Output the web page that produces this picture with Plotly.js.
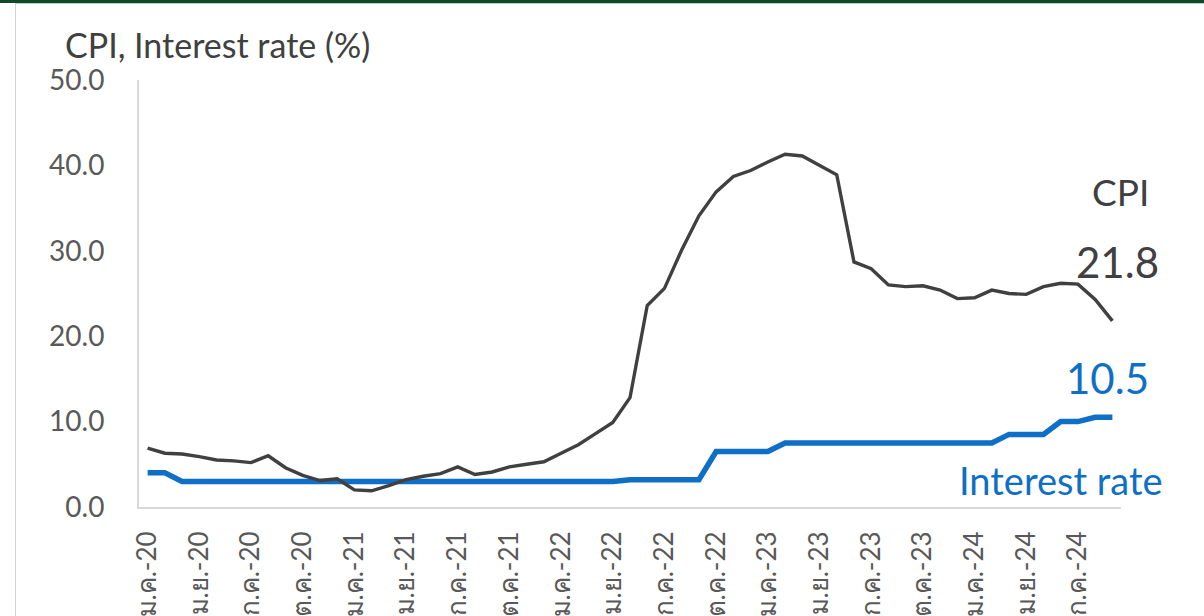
<!DOCTYPE html>
<html>
<head>
<meta charset="utf-8">
<script src="https://cdn.plot.ly/plotly-3.0.1.min.js"></script>
<style>
  html, body { margin:0; padding:0; background:#ffffff; }
  #wrap { position:relative; width:1204px; height:616px; overflow:hidden; }
  #chart { position:absolute; left:0; top:0; width:1204px; height:616px; }
  #topbar { position:absolute; left:0; top:0; width:1204px; height:3px; background:#0d4a2a; }
  #topline { position:absolute; left:15px; top:3px; width:1189px; height:1px; background:#c8c8c8; }
  #leftline { position:absolute; left:15px; top:3px; width:1px; height:613px; background:#d0d0d0; }
</style>
</head>
<body>
<div id="wrap">
  <div id="chart"></div>
  <div id="topbar"></div>
  <div id="topline"></div>
  <div id="leftline"></div>
</div>
<script>
// Months (Thai abbreviations), Jan 2020 – Sep 2024
const months = [
  'ม.ค.-20','ก.พ.-20','มี.ค.-20','เม.ย.-20','พ.ค.-20','มิ.ย.-20','ก.ค.-20','ส.ค.-20','ก.ย.-20','ต.ค.-20','พ.ย.-20','ธ.ค.-20',
  'ม.ค.-21','ก.พ.-21','มี.ค.-21','เม.ย.-21','พ.ค.-21','มิ.ย.-21','ก.ค.-21','ส.ค.-21','ก.ย.-21','ต.ค.-21','พ.ย.-21','ธ.ค.-21',
  'ม.ค.-22','ก.พ.-22','มี.ค.-22','เม.ย.-22','พ.ค.-22','มิ.ย.-22','ก.ค.-22','ส.ค.-22','ก.ย.-22','ต.ค.-22','พ.ย.-22','ธ.ค.-22',
  'ม.ค.-23','ก.พ.-23','มี.ค.-23','เม.ย.-23','พ.ค.-23','มิ.ย.-23','ก.ค.-23','ส.ค.-23','ก.ย.-23','ต.ค.-23','พ.ย.-23','ธ.ค.-23',
  'ม.ค.-24','ก.พ.-24','มี.ค.-24','เม.ย.-24','พ.ค.-24','มิ.ย.-24','ก.ค.-24','ส.ค.-24','ก.ย.-24'
];

// Tick labels shown on the x axis (every third month)
const tickLabels = [
  'ม.ค.-20','เม.ย.-20','ก.ค.-20','ต.ค.-20',
  'ม.ค.-21','เม.ย.-21','ก.ค.-21','ต.ค.-21',
  'ม.ค.-22','เม.ย.-22','ก.ค.-22','ต.ค.-22',
  'ม.ค.-23','เม.ย.-23','ก.ค.-23','ต.ค.-23',
  'ม.ค.-24','เม.ย.-24','ก.ค.-24'
];

// CPI inflation (% y/y)
const cpi = [
  6.9, 6.3, 6.2, 5.9, 5.5, 5.4, 5.2, 6.0, 4.6, 3.7, 3.1, 3.3,
  2.0, 1.9, 2.5, 3.2, 3.6, 3.9, 4.7, 3.8, 4.1, 4.7, 5.0, 5.3,
  6.3, 7.3, 8.6, 9.9, 12.8, 23.6, 25.6, 30.1, 34.1, 36.9, 38.7, 39.4,
  40.4, 41.3, 41.1, 40.0, 38.9, 28.7, 27.9, 26.0, 25.8, 25.9, 25.4, 24.4,
  24.5, 25.4, 25.0, 24.9, 25.8, 26.2, 26.1, 24.3, 21.8
];

// Policy interest rate (%)
const rate = [
  4.0, 4.0, 3.0, 3.0, 3.0, 3.0, 3.0, 3.0, 3.0, 3.0, 3.0, 3.0,
  3.0, 3.0, 3.0, 3.0, 3.0, 3.0, 3.0, 3.0, 3.0, 3.0, 3.0, 3.0,
  3.0, 3.0, 3.0, 3.0, 3.2, 3.2, 3.2, 3.2, 3.2, 6.5, 6.5, 6.5,
  6.5, 7.5, 7.5, 7.5, 7.5, 7.5, 7.5, 7.5, 7.5, 7.5, 7.5, 7.5,
  7.5, 7.5, 8.5, 8.5, 8.5, 10.0, 10.0, 10.5, 10.5
];

const yTicks = [0, 10, 20, 30, 40, 50];

const FONT = "Lato, 'Noto Sans', 'DejaVu Sans', sans-serif";
const GRAY = '#404040';
const TICKGRAY = '#595959';
const BLUE = '#0f6fc6';

const lastCpi = cpi[cpi.length - 1];
const lastRate = rate[rate.length - 1];

const traces = [
  {
    type: 'scatter', mode: 'lines', name: 'Interest rate',
    x: months, y: rate,
    line: { color: BLUE, width: 5.5 }, hoverinfo: 'x+y'
  },
  {
    type: 'scatter', mode: 'lines', name: 'CPI',
    x: months, y: cpi,
    line: { color: GRAY, width: 3.4 }, hoverinfo: 'x+y'
  }
];

const layout = {
  width: 1204, height: 616,
  margin: { l: 139, r: 83, t: 80, b: 109, pad: 0 },
  paper_bgcolor: '#ffffff', plot_bgcolor: '#ffffff',
  showlegend: false,
  font: { family: FONT, color: TICKGRAY, size: 27 },
  xaxis: {
    type: 'category',
    range: [-0.5, months.length - 0.5],
    tickmode: 'array', tickvals: tickLabels, ticktext: tickLabels,
    tickangle: -90,
    tickfont: { family: FONT, size: 26, color: TICKGRAY },
    ticklabelstandoff: 12,
    showgrid: false, zeroline: false,
    showline: true, linecolor: '#d9d9d9', linewidth: 2,
    ticks: ''
  },
  yaxis: {
    range: [0, 50],
    tickmode: 'array', tickvals: yTicks,
    ticktext: yTicks.map(v => v.toFixed(1)),
    tickfont: { family: FONT, size: 28, color: TICKGRAY },
    ticklabelstandoff: 27,
    showgrid: false, zeroline: false,
    showline: true, linecolor: '#d9d9d9', linewidth: 2,
    ticks: ''
  },
  annotations: [
    {
      text: 'CPI, Interest rate (%)', xref: 'paper', yref: 'paper',
      x: (63 - 139) / 982, y: (507 - 45) / 427, xanchor: 'left', yanchor: 'middle',
      showarrow: false, font: { family: FONT, size: 34, color: GRAY }
    },
    {
      text: 'CPI', xref: 'paper', yref: 'paper', x: 1.0305, y: 0.738,
      xanchor: 'right', yanchor: 'middle', showarrow: false,
      font: { family: FONT, size: 37, color: GRAY }
    },
    {
      text: lastCpi.toFixed(1), xref: 'paper', yref: 'paper', x: 1.0407, y: 0.574,
      xanchor: 'right', yanchor: 'middle', showarrow: false,
      font: { family: FONT, size: 42, color: GRAY }
    },
    {
      text: lastRate.toFixed(1), xref: 'paper', yref: 'paper', x: 1.0305, y: 0.303,
      xanchor: 'right', yanchor: 'middle', showarrow: false,
      font: { family: FONT, size: 42, color: BLUE }
    },
    {
      text: 'Interest rate', xref: 'paper', yref: 'paper', x: 1.0448, y: 0.063,
      xanchor: 'right', yanchor: 'middle', showarrow: false,
      font: { family: FONT, size: 38, color: BLUE }
    }
  ]
};

Plotly.newPlot('chart', traces, layout, { staticPlot: true, displayModeBar: false });
</script>
</body>
</html>
